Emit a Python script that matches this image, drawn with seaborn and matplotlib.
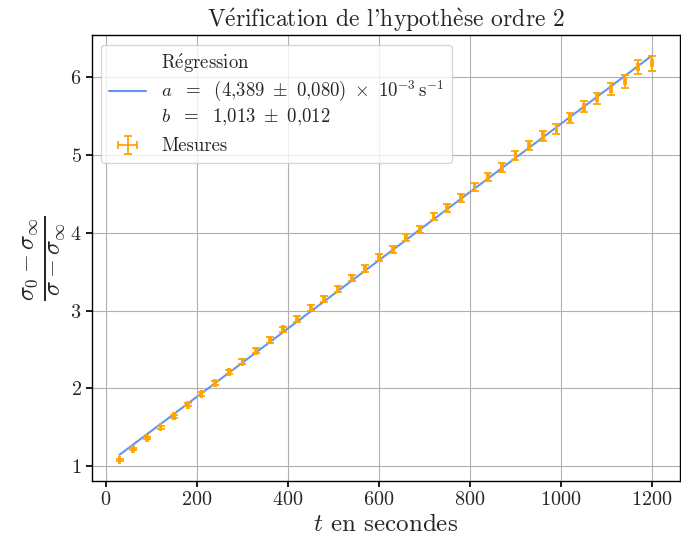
import numpy as np
import pandas as pd
import seaborn as sns
import matplotlib.pyplot as plt

# mesures : temps (s), grandeur (sigma0 - sinf)/(sigma - sinf), incertitudes
temps = [30, 60, 90, 120, 150, 180, 210, 240, 270, 300,
         330, 360, 390, 420, 450, 480, 510, 540, 570, 600,
         630, 660, 690, 720, 750, 780, 810, 840, 870, 900,
         930, 960, 990, 1020, 1050, 1080, 1110, 1140, 1170, 1200]
valeurs = [1.08, 1.22, 1.36, 1.50, 1.64, 1.79, 1.93, 2.07, 2.21, 2.34,
           2.48, 2.62, 2.76, 2.89, 3.03, 3.15, 3.28, 3.42, 3.54, 3.68,
           3.79, 3.94, 4.04, 4.21, 4.32, 4.45, 4.59, 4.72, 4.84, 4.99,
           5.12, 5.25, 5.34, 5.48, 5.62, 5.73, 5.85, 5.95, 6.13, 6.18]
err_y = [0.012, 0.014, 0.016, 0.018, 0.020, 0.022, 0.024, 0.026, 0.028, 0.030,
         0.032, 0.033, 0.034, 0.036, 0.038, 0.040, 0.041, 0.042, 0.043, 0.045,
         0.046, 0.047, 0.048, 0.050, 0.051, 0.052, 0.053, 0.055, 0.057, 0.059,
         0.061, 0.063, 0.065, 0.067, 0.069, 0.073, 0.077, 0.083, 0.090, 0.098]
err_t = 2

# regression
a = 4.389e-3
b = 1.013

sns.set_theme(style="ticks")
plt.rcParams['font.family'] = ['cmr10', 'DejaVu Serif']
plt.rcParams['mathtext.fontset'] = 'cm'
plt.rcParams['axes.formatter.use_mathtext'] = True

df = pd.DataFrame({'t': temps, 'y': valeurs, 'dy': err_y})
df['fit'] = a * df['t'] + b

fig, ax = plt.subplots(figsize=(6.81, 5.35), dpi=100)
fig.subplots_adjust(left=0.135, right=0.998, top=0.934, bottom=0.101)

label_reg = (r"R$\mathrm{\acute{e}}$gression" "\n"
             r"$a\ \ =\ \ (4{,}389\ \pm\ 0{,}080)\ \times\ 10^{-3}\,\mathrm{s}^{-1}$" "\n"
             r"$b\ \ =\ \ 1{,}013\ \pm\ 0{,}012$")
sns.lineplot(data=df, x='t', y='fit', ax=ax, color='cornflowerblue', lw=1.5,
             label=label_reg)
ax.errorbar(df['t'], df['y'], yerr=df['dy'], xerr=err_t, fmt='none',
            ecolor='orange', elinewidth=1.3, capsize=2.6, capthick=1.3,
            label='Mesures')

ax.grid(True, color='#b0b0b0', lw=0.8)
for s in ax.spines.values():
    s.set_color('black')
    s.set_linewidth(1.0)
ax.tick_params(labelsize=14.5, color='black', length=4)

ax.set_title(r"V$\mathrm{\acute{e}}$rification de l'hypoth$\mathrm{\grave{e}}$se ordre 2",
             fontsize=17)
ax.set_xlabel(r"$t$ en secondes", fontsize=18, labelpad=3)
ax.set_ylabel(r"$\frac{\sigma_0 - \sigma_\infty}{\sigma - \sigma_\infty}$",
              fontsize=25, labelpad=2)

ax.legend(loc='upper left', fontsize=13.5, frameon=True, framealpha=0.8)

fig.savefig('out.png', dpi=100)
